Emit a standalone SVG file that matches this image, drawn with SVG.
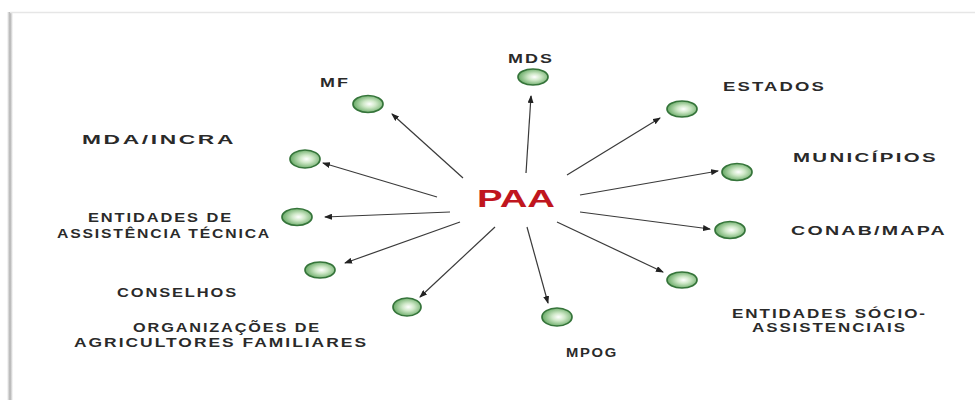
<svg xmlns="http://www.w3.org/2000/svg" width="975" height="400" viewBox="0 0 975 400">
<style>
.lbl{font-family:"Liberation Sans",Arial,sans-serif;font-weight:bold;font-size:13px;fill:#2a2a2a;letter-spacing:1.5px;}
.node ellipse{fill:url(#ball);stroke:#35743a;stroke-width:1.7;}
.conn line{stroke:#3a3a3a;stroke-width:1.2;marker-end:url(#arr);}
</style>
<defs>
<radialGradient id="ball" cx="0.55" cy="0.5" r="0.6">
<stop offset="0" stop-color="#ffffff"/>
<stop offset="0.35" stop-color="#cfe8c8"/>
<stop offset="1" stop-color="#57a055"/>
</radialGradient>
<marker id="arr" markerWidth="8" markerHeight="6" refX="7" refY="3" orient="auto" markerUnits="userSpaceOnUse">
<path d="M0,0 L8,3 L0,6 Z" fill="#222"/>
</marker>
<linearGradient id="sh" x1="0" x2="1">
<stop offset="0" stop-color="#ffffff"/>
<stop offset="0.5" stop-color="#b0b0b0"/>
<stop offset="1" stop-color="#ffffff"/>
</linearGradient>
</defs>
<rect width="975" height="400" fill="#ffffff"/>
<rect x="7" y="12" width="6" height="388" fill="url(#sh)"/>
<line x1="10" y1="12.5" x2="975" y2="12.5" stroke="#e6e6e6" stroke-width="1.5"/>

<g id="connectors" class="conn">
<line x1="463" y1="178" x2="392" y2="114"/>
<line x1="437" y1="197" x2="323" y2="163"/>
<line x1="526" y1="173" x2="531" y2="96"/>
<line x1="567" y1="175" x2="660" y2="118"/>
<line x1="580" y1="195" x2="718" y2="171"/>
<line x1="580" y1="212" x2="710" y2="229"/>
<line x1="557" y1="222" x2="663" y2="272"/>
<line x1="527" y1="227" x2="548" y2="303"/>
<line x1="495" y1="227" x2="420" y2="297"/>
<line x1="460" y1="222" x2="345" y2="263"/>
<line x1="450" y1="212" x2="325" y2="217"/>
</g>

<g id="paa"><text x="477" y="207" font-family="'Liberation Sans',Arial,sans-serif" font-weight="bold" font-size="23" fill="#c0161e" textLength="78" lengthAdjust="spacingAndGlyphs">PAA</text></g>

<g id="mf" class="node"><ellipse cx="368" cy="104" rx="15" ry="8.5"/><text class="lbl" x="320" y="87" textLength="30" lengthAdjust="spacingAndGlyphs">MF</text></g>
<g id="mds" class="node"><ellipse cx="533" cy="77" rx="15" ry="8"/><text class="lbl" x="508" y="63" textLength="46" lengthAdjust="spacingAndGlyphs">MDS</text></g>
<g id="estados" class="node"><ellipse cx="682" cy="109" rx="15" ry="8"/><text class="lbl" x="723" y="91" textLength="103" lengthAdjust="spacingAndGlyphs">ESTADOS</text></g>
<g id="municipios" class="node"><ellipse cx="737" cy="172" rx="15" ry="8.5"/><text class="lbl" x="793" y="162" textLength="145" lengthAdjust="spacingAndGlyphs">MUNICÍPIOS</text></g>
<g id="conab" class="node"><ellipse cx="730" cy="230" rx="15" ry="8.5"/><text class="lbl" x="791" y="235" textLength="156" lengthAdjust="spacingAndGlyphs">CONAB/MAPA</text></g>
<g id="socio" class="node"><ellipse cx="682" cy="280" rx="15" ry="8"/><text class="lbl" x="732" y="318" textLength="195" lengthAdjust="spacingAndGlyphs">ENTIDADES SÓCIO-</text><text class="lbl" x="752" y="332" textLength="155" lengthAdjust="spacingAndGlyphs">ASSISTENCIAIS</text></g>
<g id="mpog" class="node"><ellipse cx="557" cy="317" rx="15" ry="9"/><text class="lbl" x="566" y="357" textLength="52" lengthAdjust="spacingAndGlyphs">MPOG</text></g>
<g id="org" class="node"><ellipse cx="407" cy="307" rx="14" ry="9"/><text class="lbl" x="133" y="332" textLength="188" lengthAdjust="spacingAndGlyphs">ORGANIZAÇÕES DE</text><text class="lbl" x="74" y="347" textLength="294" lengthAdjust="spacingAndGlyphs">AGRICULTORES FAMILIARES</text></g>
<g id="conselhos" class="node"><ellipse cx="320" cy="270" rx="15" ry="8"/><text class="lbl" x="117" y="297" textLength="121" lengthAdjust="spacingAndGlyphs">CONSELHOS</text></g>
<g id="assist" class="node"><ellipse cx="297" cy="217" rx="15" ry="8.5"/><text class="lbl" x="88" y="222" textLength="145" lengthAdjust="spacingAndGlyphs">ENTIDADES DE</text><text class="lbl" x="57" y="238" textLength="214" lengthAdjust="spacingAndGlyphs">ASSISTÊNCIA TÉCNICA</text></g>
<g id="mda" class="node"><ellipse cx="305" cy="159" rx="15" ry="9"/><text class="lbl" x="82" y="144" textLength="154" lengthAdjust="spacingAndGlyphs">MDA/INCRA</text></g>
</svg>
